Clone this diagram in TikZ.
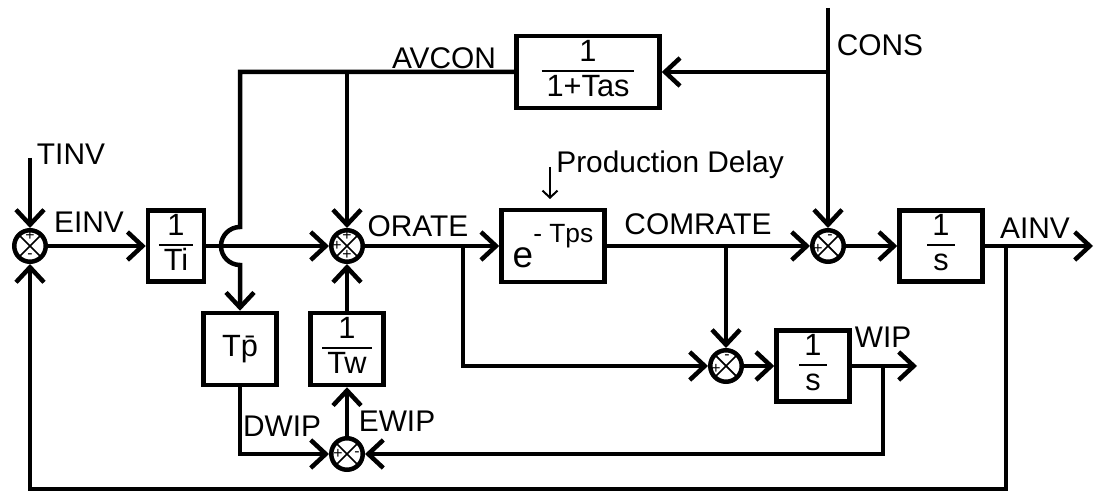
\documentclass[tikz,border=0pt]{standalone}
\usepackage{fontspec}
\setmainfont{Liberation Sans}
\usetikzlibrary{arrows.meta,calc}
\newcommand\tagfont{\fontsize{17}{20}\selectfont}
\newcommand\blkfont{\fontsize{17.5}{20}\selectfont}
\newcommand\blkfrac[2]{{\setlength\arrayrulewidth{0.04cm}%
  \begin{tabular}{@{\hspace{0.1cm}}c@{\hspace{0.1cm}}}#1\\[-1pt]\hline #2\end{tabular}}}
\tikzset{
  blockbox/.style={draw, line width=0.09cm, inner sep=0pt, font=\blkfont},
  sumjunc/.style={circle, draw, line width=0.09cm, minimum size=0.63cm, inner sep=0pt,
    path picture={\draw[line width=0.035cm]
      (path picture bounding box.north west) -- (path picture bounding box.south east)
      (path picture bounding box.north east) -- (path picture bounding box.south west);}},
  sigline/.style={line width=0.09cm},
  sigarrow/.style={sigline, -{Straight Barb[length=0.3cm, width=0.56cm]}},
  notearrow/.style={line width=0.04cm, -{Straight Barb[length=0.14cm, width=0.3cm]}},
  sigtag/.style={font=\tagfont, inner sep=0pt},
  sgn/.style={font=\fontsize{9}{9}\selectfont, inner sep=0pt}
}

\begin{document}
\begin{tikzpicture}[x=0.02cm, y=-0.02cm]
  \useasboundingbox (0,0) rectangle (1094,492);
  % summing points
  \node[sumjunc] (s1) at (30,246) {};
  \node[sumjunc] (s2) at (347,246) {};
  \node[sumjunc] (s3) at (828,246) {};
  \node[sumjunc] (s4) at (347,454) {};
  \node[sumjunc] (s5) at (726,366) {};
  \node[sgn] at ($(s1)+(0,-10)$) {+};
  \node[sgn] at ($(s1)+(0,10)$) {-};
  \node[sgn] at ($(s2)+(0,-10)$) {+};
  \node[sgn] at ($(s2)+(-10,0)$) {+};
  \node[sgn] at ($(s2)+(0,9)$) {+};
  \node[sgn] at ($(s3)+(2,-9)$) {-};
  \node[sgn] at ($(s3)+(-10,3)$) {+};
  \node[sgn] at ($(s4)+(-9,0)$) {+};
  \node[sgn] at ($(s4)+(10,0)$) {-};
  \node[sgn] at ($(s5)+(1,-9)$) {-};
  \node[sgn] at ($(s5)+(-10,3)$) {+};
  % blocks
  \node[blockbox, minimum width=1.12cm, minimum height=1.4cm] (ti) at (176,246) {\blkfrac{1}{Ti}};
  \node[blockbox, minimum width=2.86cm, minimum height=1.44cm] (tas) at (588,72) {\blkfrac{1}{1+Tas}};
  \node[blockbox, minimum width=2.06cm, minimum height=1.44cm] (delay) at (553,246)
    {{\fontsize{21}{24}\selectfont e}\raisebox{0.5cm}{\fontsize{15}{17}\selectfont - Tps}};
  \node[blockbox, minimum width=1.66cm, minimum height=1.36cm] (ainv) at (941,246) {\blkfrac{1}{s}};
  \node[blockbox, minimum width=1.46cm, minimum height=1.44cm] (tp) at (240,349) {T\={p}};
  \node[blockbox, minimum width=1.46cm, minimum height=1.44cm] (tw) at (347,349) {\blkfrac{1}{Tw}};
  \node[blockbox, minimum width=1.46cm, minimum height=1.42cm] (wip) at (813,366) {\blkfrac{1}{s}};
  % labels
  \node[sigtag] (tinvtag) at (71,154) {TINV};
  \node[sigtag] (einvtag) at (89,222) {EINV};
  \node[sigtag] (avcontag) at (444,58) {AVCON};
  \node[sigtag] (constag) at (880,45) {CONS};
  \node[sigtag] (oratetag) at (418,226) {ORATE};
  \node[sigtag] (comtag) at (698,224) {COMRATE};
  \node[sigtag] (ainvtag) at (1035,228) {AINV};
  \node[sigtag] (wiptag) at (883,337) {WIP};
  \node[sigtag] (dwiptag) at (282,426) {DWIP};
  \node[sigtag] (ewiptag) at (397,421) {EWIP};
  \node[sigtag, anchor=west] (pdtag) at (556,165) {Production Delay};
  % branch points and free ends
  \coordinate (tinvin) at (30,158);
  \coordinate (consin) at (828,8);
  \coordinate (constap) at (828,72);
  \coordinate (hoptop) at (240,227);
  \coordinate (oratetap) at (463,246);
  \coordinate (comtap) at (726,246);
  \coordinate (ainvtap) at (1006,246);
  \coordinate (ainvout) at (1093,246);
  \coordinate (wiptap) at (883,366);
  \coordinate (wipout) at (917,366);
  \coordinate (fbcorner) at (30,489);
  \coordinate (pdtail) at (550,167);
  \coordinate (pdhead) at (550,199);
  % connectors
  \draw[sigarrow] (tinvin) -- (s1);
  \draw[sigarrow] (s1) -- (ti);
  \draw[sigarrow] (ti) -- (s2);
  \draw[sigarrow] (s2) -- (delay);
  \draw[sigarrow] (delay) -- (s3);
  \draw[sigarrow] (s3) -- (ainv);
  \draw[sigarrow] (ainv) -- (ainvout);
  \draw[sigarrow] (consin) -- (s3);
  \draw[sigarrow] (constap) -- (tas);
  \draw[sigarrow] (tas.west) -| (hoptop) arc[start angle=270, end angle=90, radius=19] -- (tp);
  \draw[sigarrow] (s2 |- tas.west) -- (s2);
  \draw[sigarrow] (tw) -- (s2);
  \draw[sigarrow] (s4) -- (tw);
  \draw[sigarrow] (tp) |- (s4);
  \draw[sigarrow] (wiptap) |- (s4);
  \draw[sigarrow] (oratetap) |- (s5);
  \draw[sigarrow] (comtap) -- (s5);
  \draw[sigarrow] (s5) -- (wip);
  \draw[sigarrow] (wip) -- (wipout);
  \draw[sigarrow] (ainvtap) |- (fbcorner) -- (s1);
  \draw[notearrow] (pdtail) -- (pdhead);
\end{tikzpicture}
\end{document}
